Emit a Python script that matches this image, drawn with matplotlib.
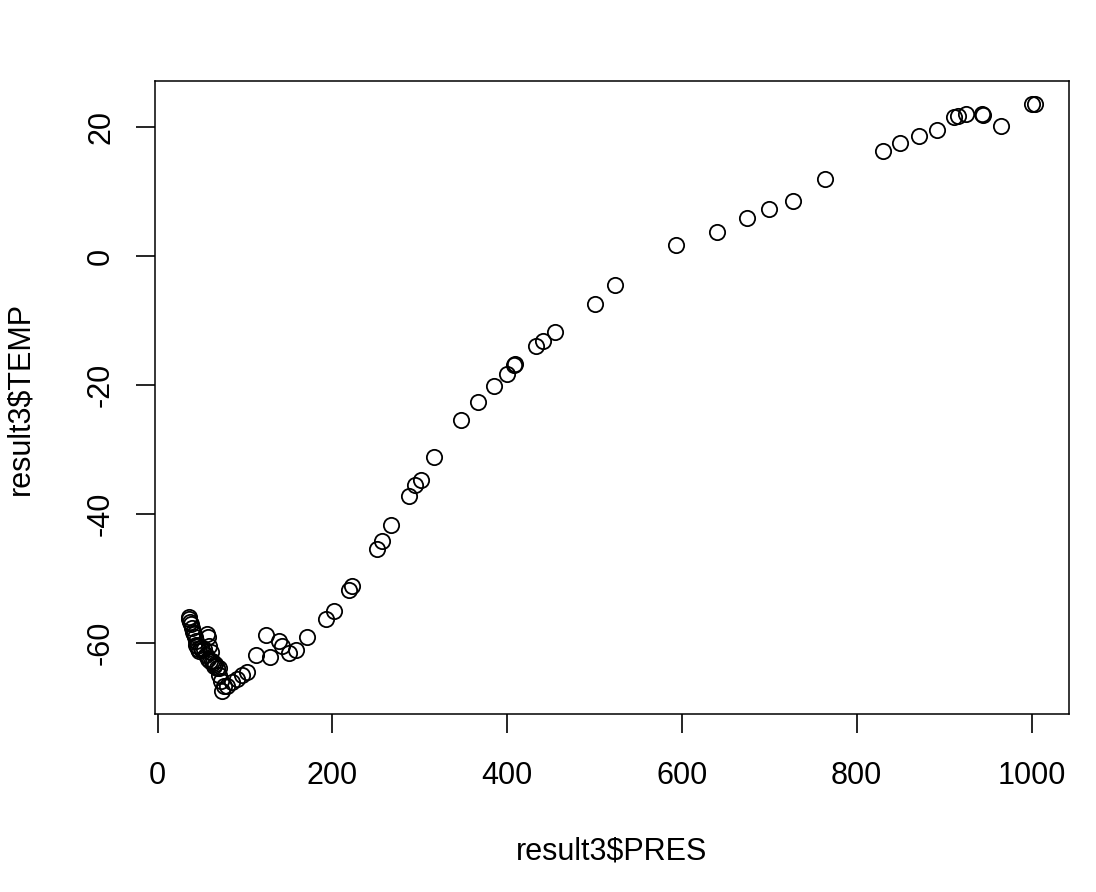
import matplotlib
matplotlib.use("Agg")
import matplotlib.pyplot as plt

plt.rcParams["font.family"] = ["Liberation Sans", "DejaVu Sans"]
plt.rcParams["axes.unicode_minus"] = False

# pressure (hPa) and temperature (C)
pres = [1000, 1004, 965, 943, 945, 925, 916, 911, 892, 871, 849, 830,
        764, 727, 700, 674, 640, 593, 524, 500, 455, 441, 433, 409, 408,
        400, 385, 367, 347, 316, 301, 295, 288, 267, 257, 251, 222, 219,
        201.5, 192.7, 171, 158.5, 150.9, 142.5, 138.8, 129.2, 124.6, 112.9,
        102.6, 96.9, 91.2, 85.5, 79.8, 76, 73.3, 72.2, 70.8, 70.4, 68, 66,
        64.7, 63.5, 62.7, 60.5, 60.8, 58.0, 58.9, 57.5, 57.0, 55.9, 53, 51,
        49.4, 48.0, 46.8, 45.6, 44.5, 43.7, 43.0, 41.8, 40.5, 39.9, 38.0,
        37.0, 36.5, 36.1]
temp = [23.6, 23.6, 20.2, 22.0, 21.9, 22.1, 21.8, 21.6, 19.6, 18.7, 17.6,
        16.3, 12.0, 8.5, 7.3, 5.9, 3.7, 1.7, -4.5, -7.5, -11.8, -13.2,
        -14.0, -16.8, -16.9, -18.3, -20.2, -22.7, -25.5, -31.2, -34.7,
        -35.6, -37.2, -41.8, -44.3, -45.5, -51.3, -51.9,
        -55.1, -56.3, -59.2, -61.1, -61.7, -60.5, -59.7, -62.3, -58.9, -61.9,
        -64.6, -65.1, -65.6, -66.2, -66.7, -66.8, -67.5, -65.9, -65.0, -64.0,
        -63.9, -63.4, -63.6, -63.2, -62.8, -62.8, -61.5, -62.6, -60.5, -59.2,
        -58.6, -62.0, -61.0, -61.2, -60.9, -61.3, -61.0, -60.5, -60.4, -59.7,
        -59.2, -58.6, -58.3, -57.8, -57.1, -56.8, -56.0, -56.3]

W, H = 1096, 892
fig = plt.figure(figsize=(W / 100, H / 100), dpi=100)
ax = fig.add_axes([155 / W, 1 - 714 / H, 914 / W, 633 / H])

ax.plot(pres, temp, linestyle="none", marker="o", markersize=11,
        markerfacecolor="none", markeredgecolor="black", markeredgewidth=1.3)

ax.set_xlim(-2.9, 1042.9)
ax.set_ylim(-71.1, 27.2)
ax.set_xticks([0, 200, 400, 600, 800, 1000])
ax.set_yticks([-60, -40, -20, 0, 20])
ax.tick_params(labelsize=22, length=13.5, width=1.2)
ax.tick_params(axis="x", pad=20.5)
ax.tick_params(axis="y", pad=14.5)
for lab in ax.get_yticklabels():
    lab.set_rotation(90)
    lab.set_va("center")

for s in ax.spines.values():
    s.set_linewidth(1.1)

ax.set_xlabel(r"result3\$PRES", fontsize=22, va="center")
ax.xaxis.set_label_coords(612 / W, 1 - 852 / H, transform=fig.transFigure)
ax.set_ylabel(r"result3\$TEMP", fontsize=22, va="center", ha="center")
ax.yaxis.set_label_coords(20 / W, 1 - 398 / H, transform=fig.transFigure)

fig.savefig("out.png", dpi=100)
